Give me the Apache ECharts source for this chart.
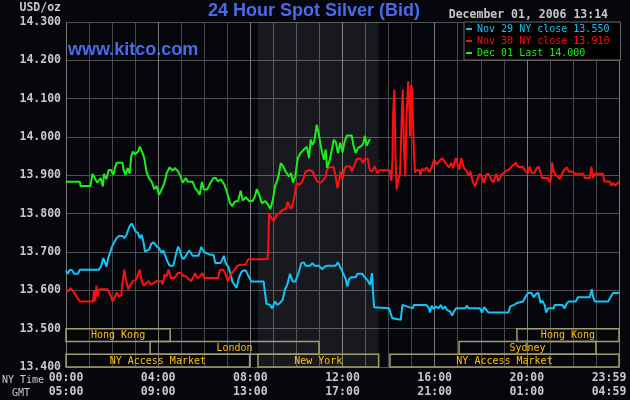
<!DOCTYPE html>
<html>
<head>
<meta charset="utf-8">
<script src="https://cdn.jsdelivr.net/npm/echarts@6/dist/echarts.min.js"></script>
<style>
html,body{margin:0;padding:0;background:#05070d;}
#chart{width:630px;height:400px;}
</style>
</head>
<body>
<div id="chart"></div>
<script>
// ---- data (hour of NY day, USD/oz) ----
const nov29 = [[0,13.652],[0.08,13.643],[0.17,13.654],[0.27,13.652],[0.35,13.643],[0.52,13.643],[0.6,13.654],[1.42,13.654],[1.52,13.662],[1.62,13.684],[1.68,13.675],[1.76,13.662],[1.83,13.684],[1.93,13.701],[2.0,13.714],[2.09,13.725],[2.19,13.736],[2.3,13.742],[2.45,13.742],[2.53,13.736],[2.63,13.745],[2.7,13.758],[2.77,13.768],[2.85,13.774],[2.92,13.767],[3.02,13.753],[3.13,13.749],[3.2,13.736],[3.28,13.745],[3.36,13.727],[3.43,13.701],[3.5,13.706],[3.61,13.706],[3.7,13.721],[3.8,13.725],[3.95,13.714],[4.04,13.710],[4.15,13.697],[4.22,13.704],[4.32,13.688],[4.4,13.675],[4.5,13.664],[4.65,13.664],[4.72,13.680],[4.8,13.701],[4.87,13.714],[4.93,13.706],[5.02,13.688],[5.1,13.681],[5.2,13.690],[5.35,13.704],[5.5,13.690],[5.75,13.690],[5.87,13.713],[5.98,13.701],[6.08,13.697],[6.25,13.693],[6.4,13.693],[6.48,13.671],[6.7,13.671],[6.78,13.680],[6.85,13.690],[6.93,13.671],[7.04,13.662],[7.15,13.641],[7.22,13.623],[7.3,13.619],[7.4,13.606],[7.5,13.632],[7.6,13.647],[7.7,13.652],[7.8,13.652],[7.93,13.636],[8.04,13.623],[8.58,13.623],[8.62,13.601],[8.7,13.565],[8.85,13.562],[8.95,13.553],[9.07,13.571],[9.17,13.562],[9.28,13.567],[9.4,13.575],[9.5,13.601],[9.6,13.614],[9.72,13.643],[9.84,13.623],[9.95,13.623],[10.01,13.632],[10.11,13.649],[10.21,13.671],[10.33,13.673],[10.4,13.664],[10.6,13.664],[10.69,13.671],[10.79,13.664],[10.98,13.664],[11.12,13.655],[11.23,13.662],[11.34,13.664],[11.7,13.664],[11.8,13.673],[11.92,13.658],[12.03,13.645],[12.14,13.629],[12.21,13.610],[12.28,13.629],[12.38,13.634],[12.57,13.634],[12.64,13.643],[12.86,13.643],[12.96,13.634],[13.08,13.627],[13.2,13.614],[13.28,13.645],[13.32,13.601],[13.37,13.556],[13.44,13.553],[14.02,13.553],[14.09,13.540],[14.16,13.527],[14.24,13.523],[14.53,13.523],[14.6,13.562],[15.05,13.553],[15.1,13.562],[15.63,13.562],[15.73,13.556],[15.8,13.542],[15.87,13.560],[15.95,13.551],[16.06,13.558],[16.16,13.553],[16.27,13.562],[16.35,13.551],[16.45,13.558],[16.55,13.548],[16.67,13.545],[16.76,13.534],[16.84,13.545],[16.93,13.553],[17.32,13.553],[17.4,13.560],[17.47,13.553],[17.97,13.553],[18.05,13.542],[18.15,13.556],[18.23,13.560],[18.34,13.542],[19.2,13.542],[19.28,13.558],[19.35,13.556],[19.45,13.562],[19.57,13.567],[19.65,13.571],[19.83,13.571],[19.95,13.584],[20.05,13.593],[20.2,13.593],[20.3,13.582],[20.41,13.591],[20.5,13.594],[20.59,13.567],[20.67,13.573],[20.77,13.562],[20.84,13.542],[20.92,13.553],[21.16,13.553],[21.21,13.562],[21.54,13.562],[21.64,13.553],[21.74,13.567],[21.83,13.571],[22.12,13.571],[22.22,13.582],[22.73,13.582],[22.82,13.603],[22.87,13.584],[22.95,13.571],[23.53,13.571],[23.63,13.582],[23.74,13.593],[24,13.593]];

const nov30 = [[0,13.603],[0.1,13.597],[0.2,13.606],[0.32,13.597],[0.38,13.593],[0.5,13.580],[0.6,13.571],[1.17,13.571],[1.22,13.600],[1.27,13.571],[1.32,13.612],[1.38,13.584],[1.45,13.603],[1.8,13.603],[1.96,13.584],[2.02,13.571],[2.1,13.580],[2.2,13.594],[2.3,13.584],[2.4,13.587],[2.45,13.619],[2.53,13.654],[2.6,13.628],[2.7,13.603],[2.8,13.615],[2.9,13.624],[3.05,13.628],[3.2,13.654],[3.27,13.628],[3.37,13.612],[3.48,13.618],[3.58,13.624],[3.68,13.615],[3.8,13.619],[3.93,13.624],[4.15,13.624],[4.2,13.615],[4.28,13.641],[4.37,13.637],[4.45,13.654],[4.55,13.632],[4.7,13.632],[4.85,13.645],[5.0,13.645],[5.1,13.637],[5.2,13.637],[5.3,13.631],[5.42,13.624],[5.5,13.632],[5.6,13.645],[5.68,13.632],[5.78,13.634],[5.93,13.645],[6.0,13.632],[6.6,13.632],[6.68,13.654],[6.82,13.654],[6.93,13.641],[7.02,13.624],[7.12,13.637],[7.2,13.645],[7.32,13.654],[7.42,13.663],[7.55,13.667],[7.8,13.667],[7.9,13.681],[8.75,13.681],[8.78,13.715],[8.81,13.801],[8.92,13.788],[9.03,13.781],[9.13,13.797],[9.25,13.801],[9.4,13.810],[9.55,13.812],[9.62,13.831],[9.77,13.812],[9.85,13.827],[9.92,13.845],[10.0,13.880],[10.11,13.875],[10.25,13.883],[10.4,13.910],[10.55,13.914],[10.7,13.910],[10.8,13.897],[10.9,13.884],[11.02,13.880],[11.17,13.888],[11.27,13.897],[11.33,13.914],[11.4,13.921],[11.62,13.921],[11.7,13.897],[11.78,13.867],[11.85,13.888],[11.92,13.910],[12.0,13.888],[12.07,13.914],[12.15,13.923],[12.35,13.923],[12.4,13.910],[12.52,13.927],[12.62,13.943],[12.8,13.943],[12.88,13.932],[12.98,13.943],[13.1,13.943],[13.18,13.914],[13.28,13.910],[13.4,13.923],[13.5,13.906],[13.6,13.913],[14.05,13.913],[14.12,13.886],[14.17,13.940],[14.2,14.063],[14.25,14.123],[14.3,13.950],[14.35,13.863],[14.42,13.888],[14.5,13.906],[14.58,14.071],[14.62,14.123],[14.67,13.966],[14.73,13.897],[14.77,14.041],[14.85,14.145],[14.9,14.080],[14.93,14.002],[14.98,14.136],[15.02,14.120],[15.05,14.063],[15.1,13.958],[15.15,13.907],[15.2,13.913],[15.35,13.913],[15.38,13.899],[15.45,13.917],[15.55,13.913],[15.65,13.921],[15.77,13.908],[15.87,13.921],[15.98,13.941],[16.1,13.928],[16.22,13.939],[16.32,13.945],[16.48,13.932],[16.62,13.921],[16.72,13.932],[16.8,13.919],[16.92,13.945],[17.0,13.941],[17.07,13.915],[17.15,13.945],[17.27,13.919],[17.37,13.913],[17.47,13.899],[17.55,13.910],[17.65,13.884],[17.75,13.871],[17.85,13.889],[17.95,13.904],[18.05,13.897],[18.13,13.880],[18.25,13.902],[18.35,13.904],[18.45,13.889],[18.55,13.882],[18.67,13.904],[18.77,13.884],[18.9,13.902],[19.0,13.906],[19.12,13.913],[19.22,13.914],[19.33,13.923],[19.45,13.928],[19.52,13.934],[19.6,13.923],[19.7,13.921],[19.83,13.923],[19.95,13.910],[20.05,13.906],[20.12,13.923],[20.22,13.906],[20.33,13.906],[20.43,13.919],[20.52,13.923],[20.6,13.906],[20.67,13.893],[20.92,13.893],[21.0,13.881],[21.05,13.893],[21.1,13.933],[21.17,13.910],[21.25,13.901],[21.35,13.897],[21.42,13.890],[21.5,13.899],[21.57,13.910],[21.72,13.921],[21.83,13.910],[21.98,13.910],[22.08,13.904],[22.45,13.904],[22.52,13.893],[22.73,13.893],[22.8,13.923],[22.87,13.893],[22.95,13.904],[23.3,13.904],[23.37,13.884],[23.6,13.884],[23.67,13.873],[23.75,13.880],[23.83,13.873],[23.95,13.880],[24,13.884]];

const dec01 = [[0,13.883],[0.6,13.883],[0.63,13.872],[1.06,13.872],[1.15,13.904],[1.25,13.893],[1.35,13.881],[1.5,13.893],[1.6,13.871],[1.65,13.904],[1.75,13.890],[1.85,13.914],[1.95,13.914],[2.05,13.901],[2.12,13.919],[2.2,13.933],[2.45,13.933],[2.5,13.914],[2.58,13.901],[2.68,13.919],[2.76,13.904],[2.83,13.949],[2.9,13.962],[3.0,13.955],[3.13,13.962],[3.2,13.975],[3.3,13.962],[3.4,13.945],[3.5,13.907],[3.6,13.893],[3.72,13.883],[3.83,13.864],[3.93,13.872],[4.04,13.849],[4.15,13.863],[4.27,13.880],[4.37,13.906],[4.5,13.921],[4.62,13.912],[4.72,13.919],[4.87,13.910],[4.95,13.900],[5.07,13.881],[5.2,13.893],[5.27,13.884],[5.5,13.883],[5.6,13.867],[5.72,13.858],[5.8,13.849],[5.9,13.883],[5.98,13.863],[6.12,13.863],[6.27,13.880],[6.4,13.893],[6.5,13.893],[6.6,13.884],[6.72,13.890],[6.87,13.876],[6.98,13.858],[7.12,13.827],[7.22,13.820],[7.32,13.831],[7.47,13.833],[7.58,13.860],[7.67,13.834],[7.8,13.843],[7.95,13.833],[8.1,13.833],[8.2,13.845],[8.28,13.864],[8.38,13.851],[8.5,13.827],[8.65,13.833],[8.75,13.825],[8.87,13.812],[8.97,13.834],[9.07,13.871],[9.18,13.888],[9.25,13.906],[9.32,13.932],[9.43,13.923],[9.53,13.910],[9.67,13.897],[9.77,13.906],[9.85,13.881],[9.95,13.897],[10.06,13.945],[10.18,13.958],[10.32,13.967],[10.45,13.975],[10.55,13.945],[10.62,13.993],[10.7,13.980],[10.77,13.988],[10.84,14.014],[10.88,14.032],[10.98,14.005],[11.05,13.980],[11.12,13.958],[11.2,13.941],[11.27,13.967],[11.33,13.919],[11.45,13.941],[11.55,13.971],[11.62,13.993],[11.72,13.985],[11.8,13.958],[11.9,13.985],[12.0,13.960],[12.1,13.990],[12.2,14.004],[12.4,14.004],[12.47,13.980],[12.57,13.958],[12.67,13.971],[12.82,13.977],[12.9,13.983],[12.98,14.003],[13.05,13.977],[13.19,13.995]];

const seriesNames = ['Nov 29 NY close 13.550', 'Nov 30 NY close 13.910', 'Dec 01 Last 14.000'];
const yTickValues = [13.4, 14.3, 0.1]; // min, max, step
const labelHours = [0, 4, 8, 12, 16, 20, 24];
const nyTimeLabels = ['00:00', '04:00', '08:00', '12:00', '16:00', '20:00', '23:59'];
const gmtTimeLabels = ['05:00', '09:00', '13:00', '17:00', '21:00', '01:00', '04:59'];
const nySession = [8.33, 13.57];
const sessionNames = ['Hong Kong', 'London', 'NY Access Market', 'New York', 'NY Access Market', 'Sydney', 'Hong Kong'];
const sessionStart = [0, 3.65, 0, 8.33, 14.06, 17.06, 19.57];
const sessionEnd = [4.52, 10.98, 7.97, 13.57, 24, 23.0, 24];
const sessionRow = [0, 1, 2, 2, 2, 1, 0];

// ---- chart ----
const mono = '"DejaVu Sans Mono", monospace';
const colors = ['#14c4f4', '#ff1010', '#18f018'];
const chart = echarts.init(document.getElementById('chart'), null, {renderer: 'canvas'});

const lineSeries = [nov29, nov30, dec01].map((d, i) => ({
  name: seriesNames[i],
  type: 'line',
  data: d,
  showSymbol: false,
  symbol: 'none',
  lineStyle: {width: 2, color: colors[i]},
  itemStyle: {color: colors[i]},
  z: 3 + i,
  animation: false
}));
lineSeries[0].markArea = {
  silent: true,
  itemStyle: {color: 'rgba(255,255,255,0.075)'},
  data: [[{xAxis: nySession[0]}, {xAxis: nySession[1]}]]
};

const rowH = (yTickValues[2]) / 3;
const sessionSeries = {
  type: 'custom',
  data: sessionStart.map((s, i) => [s, sessionEnd[i], sessionRow[i]]),
  encode: {x: [0, 1], y: 2},
  z: 10,
  silent: true,
  animation: false,
  renderItem: function (params, api) {
    const s = api.value(0), e = api.value(1), row = api.value(2);
    const top = 13.5 - row * rowH, bottom = top - rowH;
    const p1 = api.coord([s, top]);
    const p2 = api.coord([e, bottom]);
    return {
      type: 'group',
      children: [
        {type: 'rect', shape: {x: p1[0], y: p1[1], width: p2[0] - p1[0], height: p2[1] - p1[1]},
          style: {fill: 'none', stroke: '#a39d6e', lineWidth: 1.5}},
        {type: 'text', style: {text: sessionNames[params.dataIndex], x: (p1[0] + p2[0]) / 2, y: (p1[1] + p2[1]) / 2 + 0.5,
          textAlign: 'center', textVerticalAlign: 'middle', fill: '#ffc000', font: '10px ' + mono}}
      ]
    };
  }
};

const option = {
  backgroundColor: '#05070d',
  animation: false,
  grid: {left: 66, right: 11, top: 22, bottom: 33, containLabel: false, outerBoundsMode: 'none'},
  xAxis: {
    type: 'value', min: 0, max: 24, interval: 1,
    axisLine: {show: false}, axisTick: {show: false},
    splitLine: {show: true, lineStyle: {width: 1, color: ['#7a7a7a', '#4a4a4a', '#4a4a4a', '#4a4a4a']}},
    axisLabel: {
      margin: 4,
      showMinLabel: true, showMaxLabel: true,
      formatter: function (v) {
        const i = labelHours.indexOf(v);
        if (i < 0) return '';
        const k = v === 24 ? 'e' : 'n';
        return '{' + k + '|' + nyTimeLabels[i] + '}\n{' + k + '|' + gmtTimeLabels[i] + '}';
      },
      rich: {
        n: {fontFamily: mono, fontWeight: 'bold', fontSize: 11.5, color: '#c8c8c8', lineHeight: 14},
        e: {fontFamily: mono, fontWeight: 'bold', fontSize: 11.5, color: '#c8c8c8', lineHeight: 14, padding: [0, 20, 0, 0]}
      }
    }
  },
  yAxis: {
    type: 'value', min: yTickValues[0], max: yTickValues[1], interval: yTickValues[2],
    axisLine: {show: false}, axisTick: {show: false},
    splitLine: {show: true, lineStyle: {width: 1, color: '#505050'}},
    axisLabel: {
      margin: 5,
      formatter: v => v.toFixed(3),
      fontFamily: mono, fontWeight: 'bold', fontSize: 11.5, color: '#c8c8c8'
    }
  },
  legend: {
    orient: 'vertical', left: 464, top: 22,
    backgroundColor: '#000000', borderColor: '#6a6a6a', borderWidth: 1,
    padding: [1, 11, 1, 2], itemGap: 0,
    icon: 'rect', itemWidth: 6, itemHeight: 2,
    selectedMode: false,
    textStyle: {fontFamily: mono, fontSize: 10, lineHeight: 12},
    data: seriesNames.map((n, i) => ({name: n, textStyle: {color: colors[i]}}))
  },
  graphic: [
    {type: 'text', x: 314, y: 11, style: {text: '24 Hour Spot Silver (Bid)', textAlign: 'center', textVerticalAlign: 'middle', fill: '#4a6ae8', font: 'bold 18px "Liberation Sans", Arial, sans-serif'}},
    {type: 'text', x: 68, y: 50, z: 20, style: {text: 'www.kitco.com', textAlign: 'left', textVerticalAlign: 'middle', fill: '#4a6ae8', font: 'bold 18px "Liberation Sans", Arial, sans-serif'}},
    {type: 'text', x: 608, y: 15, style: {text: 'December 01, 2006 13:14', textAlign: 'right', textVerticalAlign: 'middle', fill: '#c8c8c8', font: 'bold 11.5px ' + mono}},
    {type: 'text', x: 61, y: 8, style: {text: 'USD/oz', textAlign: 'right', textVerticalAlign: 'middle', fill: '#c8c8c8', font: 'bold 11.5px ' + mono}},
    {type: 'text', x: 23, y: 380, style: {text: 'NY Time', textAlign: 'center', textVerticalAlign: 'middle', fill: '#c8c8c8', font: '10px ' + mono}},
    {type: 'text', x: 21, y: 393, style: {text: 'GMT', textAlign: 'center', textVerticalAlign: 'middle', fill: '#c8c8c8', font: '10px ' + mono}}
  ],
  series: lineSeries.concat([sessionSeries])
};
chart.setOption(option);
</script>
</body>
</html>
